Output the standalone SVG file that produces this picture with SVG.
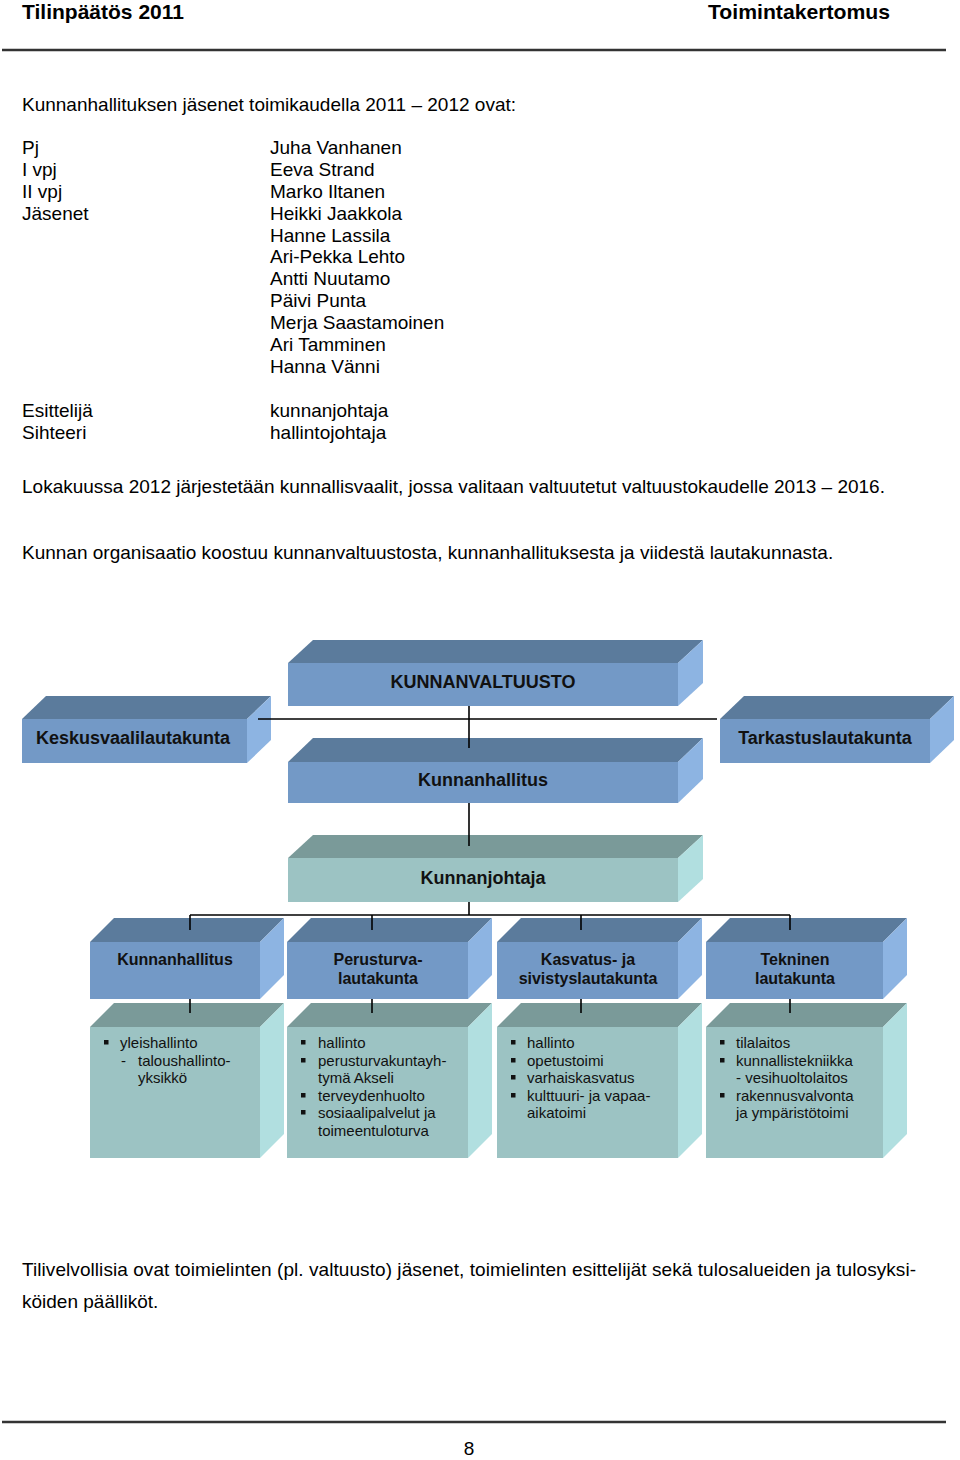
<svg xmlns="http://www.w3.org/2000/svg" width="960" height="1460" viewBox="0 0 960 1460">
<style>
.hd{font-family:"Liberation Sans",Arial,sans-serif;font-size:21px;font-weight:bold;fill:#000}
.tx{font-family:"Liberation Sans",Arial,sans-serif;font-size:19px;fill:#000}
.bl{font-family:"Liberation Sans",Arial,sans-serif;font-size:18px;font-weight:bold;fill:#111;text-anchor:middle}
.bs{font-family:"Liberation Sans",Arial,sans-serif;font-size:16px;font-weight:bold;fill:#111;text-anchor:middle}
.sm{font-family:"Liberation Sans",Arial,sans-serif;font-size:15px;fill:#111}
.bf{fill:#7399C6}.bt{fill:#5B7B9C}.br{fill:#8DB4E2}
.tf{fill:#9CC3C3}.tt{fill:#7A9A99}.tr{fill:#B1DFE0}
.cn{stroke:#000;stroke-width:1.6;fill:none}
.rule{stroke:#333;stroke-width:2.5}
.bu{fill:#111}
</style>
<rect width="960" height="1460" fill="#fff"/>
<g id="header">
<text class="hd" x="22" y="19" textLength="162" lengthAdjust="spacingAndGlyphs">Tilinpäätös 2011</text>
<text class="hd" x="708" y="19" textLength="182" lengthAdjust="spacingAndGlyphs">Toimintakertomus</text>
<line class="rule" x1="2" y1="50" x2="946" y2="50"/>
</g>
<g id="body-text">
<text class="tx" x="22" y="111">Kunnanhallituksen jäsenet toimikaudella 2011 – 2012 ovat:</text>
<text class="tx" x="22" y="154">Pj</text>
<text class="tx" x="22" y="176">I vpj</text>
<text class="tx" x="22" y="198">II vpj</text>
<text class="tx" x="22" y="220">Jäsenet</text>
<text class="tx" x="270" y="154">Juha Vanhanen</text>
<text class="tx" x="270" y="176">Eeva Strand</text>
<text class="tx" x="270" y="198">Marko Iltanen</text>
<text class="tx" x="270" y="220">Heikki Jaakkola</text>
<text class="tx" x="270" y="242">Hanne Lassila</text>
<text class="tx" x="270" y="263">Ari-Pekka Lehto</text>
<text class="tx" x="270" y="285">Antti Nuutamo</text>
<text class="tx" x="270" y="307">Päivi Punta</text>
<text class="tx" x="270" y="329">Merja Saastamoinen</text>
<text class="tx" x="270" y="351">Ari Tamminen</text>
<text class="tx" x="270" y="373">Hanna Vänni</text>
<text class="tx" x="22" y="417">Esittelijä</text>
<text class="tx" x="22" y="439">Sihteeri</text>
<text class="tx" x="270" y="417">kunnanjohtaja</text>
<text class="tx" x="270" y="439">hallintojohtaja</text>
<text class="tx" x="22" y="493">Lokakuussa 2012 järjestetään kunnallisvaalit, jossa valitaan valtuutetut valtuustokaudelle 2013 – 2016.</text>
<text class="tx" x="22" y="559">Kunnan organisaatio koostuu kunnanvaltuustosta, kunnanhallituksesta ja viidestä lautakunnasta.</text>
<text class="tx" x="22" y="1276" textLength="894" lengthAdjust="spacing">Tilivelvollisia ovat toimielinten (pl. valtuusto) jäsenet, toimielinten esittelijät sekä tulosalueiden ja tulosyksi-</text>
<text class="tx" x="22" y="1308">köiden päälliköt.</text>
</g>
<g id="kunnanvaltuusto">
<polygon class="bt" points="288,663 313,640 703,640 678,663"/>
<polygon class="br" points="678,663 703,640 703,683 678,706"/>
<rect class="bf" x="288" y="663" width="390" height="43"/>
<text class="bl" x="483" y="688">KUNNANVALTUUSTO</text>
</g>
<g id="keskusvaalilautakunta">
<polygon class="bt" points="22,719 46,696 271,696 247,719"/>
<polygon class="br" points="247,719 271,696 271,740 247,763"/>
<rect class="bf" x="22" y="719" width="225" height="44"/>
<text class="bl" x="133" y="744">Keskusvaalilautakunta</text>
</g>
<g id="tarkastuslautakunta">
<polygon class="bt" points="720,719 744,696 954,696 930,719"/>
<polygon class="br" points="930,719 954,696 954,740 930,763"/>
<rect class="bf" x="720" y="719" width="210" height="44"/>
<text class="bl" x="825" y="744">Tarkastuslautakunta</text>
</g>
<g id="kunnanhallitus-main">
<polygon class="bt" points="288,762 313,738 703,738 678,762"/>
<polygon class="br" points="678,762 703,738 703,779 678,803"/>
<rect class="bf" x="288" y="762" width="390" height="41"/>
<text class="bl" x="483" y="786">Kunnanhallitus</text>
</g>
<g id="kunnanjohtaja">
<polygon class="tt" points="288,858 313,835 703,835 678,858"/>
<polygon class="tr" points="678,858 703,835 703,879 678,902"/>
<rect class="tf" x="288" y="858" width="390" height="44"/>
<text class="bl" x="483" y="884">Kunnanjohtaja</text>
</g>
<g id="lk-kunnanhallitus">
<polygon class="bt" points="90,942 114,918 284,918 260,942"/>
<polygon class="br" points="260,942 284,918 284,975 260,999"/>
<rect class="bf" x="90" y="942" width="170" height="57"/>
<text class="bs" x="175" y="965">Kunnanhallitus</text>
</g>
<g id="lk-perusturva">
<polygon class="bt" points="287,942 311,918 492,918 468,942"/>
<polygon class="br" points="468,942 492,918 492,975 468,999"/>
<rect class="bf" x="287" y="942" width="181" height="57"/>
<text class="bs" x="378" y="965">Perusturva-</text>
<text class="bs" x="378" y="984">lautakunta</text>
</g>
<g id="lk-kasvatus">
<polygon class="bt" points="497,942 521,918 702,918 678,942"/>
<polygon class="br" points="678,942 702,918 702,975 678,999"/>
<rect class="bf" x="497" y="942" width="181" height="57"/>
<text class="bs" x="588" y="965">Kasvatus- ja</text>
<text class="bs" x="588" y="984">sivistyslautakunta</text>
</g>
<g id="lk-tekninen">
<polygon class="bt" points="706,942 730,918 907,918 883,942"/>
<polygon class="br" points="883,942 907,918 907,975 883,999"/>
<rect class="bf" x="706" y="942" width="177" height="57"/>
<text class="bs" x="795" y="965">Tekninen</text>
<text class="bs" x="795" y="984">lautakunta</text>
</g>
<g id="tasks-kunnanhallitus">
<polygon class="tt" points="90,1027 114,1003 284,1003 260,1027"/>
<polygon class="tr" points="260,1027 284,1003 284,1134 260,1158"/>
<rect class="tf" x="90" y="1027" width="170" height="131"/>
<rect class="bu" x="104" y="1040" width="4.5" height="4.5"/>
<text class="sm" x="120" y="1048">yleishallinto</text>
<text class="sm" x="121" y="1066">-</text>
<text class="sm" x="138" y="1066">taloushallinto-</text>
<text class="sm" x="138" y="1083">yksikkö</text>
</g>
<g id="tasks-perusturva">
<polygon class="tt" points="287,1027 311,1003 492,1003 468,1027"/>
<polygon class="tr" points="468,1027 492,1003 492,1134 468,1158"/>
<rect class="tf" x="287" y="1027" width="181" height="131"/>
<rect class="bu" x="301" y="1040" width="4.5" height="4.5"/>
<text class="sm" x="318" y="1048">hallinto</text>
<rect class="bu" x="301" y="1058" width="4.5" height="4.5"/>
<text class="sm" x="318" y="1066">perusturvakuntayh-</text>
<text class="sm" x="318" y="1083">tymä Akseli</text>
<rect class="bu" x="301" y="1093" width="4.5" height="4.5"/>
<text class="sm" x="318" y="1101">terveydenhuolto</text>
<rect class="bu" x="301" y="1110" width="4.5" height="4.5"/>
<text class="sm" x="318" y="1118">sosiaalipalvelut ja</text>
<text class="sm" x="318" y="1136">toimeentuloturva</text>
</g>
<g id="tasks-kasvatus">
<polygon class="tt" points="497,1027 521,1003 702,1003 678,1027"/>
<polygon class="tr" points="678,1027 702,1003 702,1134 678,1158"/>
<rect class="tf" x="497" y="1027" width="181" height="131"/>
<rect class="bu" x="511" y="1040" width="4.5" height="4.5"/>
<text class="sm" x="527" y="1048">hallinto</text>
<rect class="bu" x="511" y="1058" width="4.5" height="4.5"/>
<text class="sm" x="527" y="1066">opetustoimi</text>
<rect class="bu" x="511" y="1075" width="4.5" height="4.5"/>
<text class="sm" x="527" y="1083">varhaiskasvatus</text>
<rect class="bu" x="511" y="1093" width="4.5" height="4.5"/>
<text class="sm" x="527" y="1101">kulttuuri- ja vapaa-</text>
<text class="sm" x="527" y="1118">aikatoimi</text>
</g>
<g id="tasks-tekninen">
<polygon class="tt" points="706,1027 730,1003 907,1003 883,1027"/>
<polygon class="tr" points="883,1027 907,1003 907,1134 883,1158"/>
<rect class="tf" x="706" y="1027" width="177" height="131"/>
<rect class="bu" x="720" y="1040" width="4.5" height="4.5"/>
<text class="sm" x="736" y="1048">tilalaitos</text>
<rect class="bu" x="720" y="1058" width="4.5" height="4.5"/>
<text class="sm" x="736" y="1066">kunnallistekniikka</text>
<text class="sm" x="736" y="1083">- vesihuoltolaitos</text>
<rect class="bu" x="720" y="1093" width="4.5" height="4.5"/>
<text class="sm" x="736" y="1101">rakennusvalvonta</text>
<text class="sm" x="736" y="1118">ja ympäristötoimi</text>
</g>
<g id="connectors">
<line class="cn" x1="258" y1="719" x2="717" y2="719"/>
<line class="cn" x1="469" y1="706" x2="469" y2="748"/>
<line class="cn" x1="469" y1="803" x2="469" y2="846"/>
<line class="cn" x1="469" y1="902" x2="469" y2="915"/>
<line class="cn" x1="190" y1="915" x2="790" y2="915"/>
<line class="cn" x1="190" y1="915" x2="190" y2="930"/>
<line class="cn" x1="372" y1="915" x2="372" y2="930"/>
<line class="cn" x1="581" y1="915" x2="581" y2="930"/>
<line class="cn" x1="790" y1="915" x2="790" y2="930"/>
<line class="cn" x1="190" y1="999" x2="190" y2="1013"/>
<line class="cn" x1="372" y1="999" x2="372" y2="1013"/>
<line class="cn" x1="581" y1="999" x2="581" y2="1013"/>
<line class="cn" x1="790" y1="999" x2="790" y2="1013"/>
</g>
<g id="footer">
<line class="rule" x1="2" y1="1422" x2="946" y2="1422"/>
<text class="tx" x="469" y="1455" text-anchor="middle" font-size="18">8</text>
</g>
</svg>
